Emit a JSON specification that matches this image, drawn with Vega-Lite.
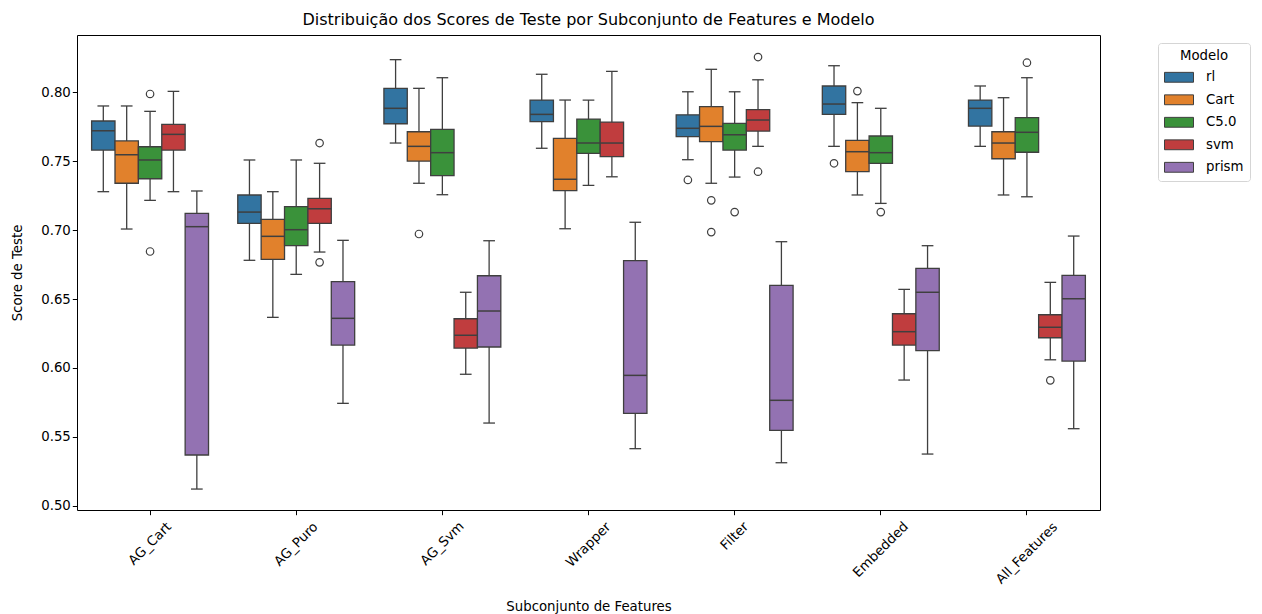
{
  "$schema": "https://vega.github.io/schema/vega-lite/v6.json",
  "autosize": "none",
  "width": 1023,
  "height": 475,
  "padding": {"left": 77, "top": 35, "right": 162, "bottom": 104},
  "background": "white",
  "config": {
    "font": "DejaVu Sans",
    "view": {"stroke": "#000000", "strokeWidth": 1},
    "axis": {"grid": false, "domain": false, "tickColor": "#000000", "tickSize": 4.7, "tickWidth": 1, "labelColor": "#000000", "titleColor": "#000000", "labelFontSize": 13.3, "titleFontSize": 13.3, "titleFontWeight": "normal", "labelFont": "DejaVu Sans", "titleFont": "DejaVu Sans"},
    "title": {"font": "DejaVu Sans", "fontSize": 16, "fontWeight": "normal", "color": "#000000"}
  },
  "title": {"text": "Distribuição dos Scores de Teste por Subconjunto de Features e Modelo", "anchor": "middle", "offset": 7},
  "datasets": {
    "boxes": [
      {"g": "AG_Cart", "m": "rl", "lo": 0.7279, "q1": 0.7581, "med": 0.7721, "q3": 0.7792, "hi": 0.7901},
      {"g": "AG_Cart", "m": "Cart", "lo": 0.7008, "q1": 0.7340, "med": 0.7547, "q3": 0.7647, "hi": 0.7901},
      {"g": "AG_Cart", "m": "C5.0", "lo": 0.7216, "q1": 0.7373, "med": 0.7509, "q3": 0.7605, "hi": 0.7862},
      {"g": "AG_Cart", "m": "svm", "lo": 0.7279, "q1": 0.7581, "med": 0.7695, "q3": 0.7768, "hi": 0.8007},
      {"g": "AG_Cart", "m": "prism", "lo": 0.5121, "q1": 0.5368, "med": 0.7025, "q3": 0.7122, "hi": 0.7284},
      {"g": "AG_Puro", "m": "rl", "lo": 0.6781, "q1": 0.7049, "med": 0.7131, "q3": 0.7255, "hi": 0.7509},
      {"g": "AG_Puro", "m": "Cart", "lo": 0.6367, "q1": 0.6788, "med": 0.6955, "q3": 0.7078, "hi": 0.7279},
      {"g": "AG_Puro", "m": "C5.0", "lo": 0.6679, "q1": 0.6887, "med": 0.7003, "q3": 0.7170, "hi": 0.7509},
      {"g": "AG_Puro", "m": "svm", "lo": 0.6841, "q1": 0.7049, "med": 0.7155, "q3": 0.7231, "hi": 0.7485},
      {"g": "AG_Puro", "m": "prism", "lo": 0.5743, "q1": 0.6166, "med": 0.6360, "q3": 0.6626, "hi": 0.6926},
      {"g": "AG_Svm", "m": "rl", "lo": 0.7632, "q1": 0.7772, "med": 0.7884, "q3": 0.8029, "hi": 0.8237},
      {"g": "AG_Svm", "m": "Cart", "lo": 0.7340, "q1": 0.7501, "med": 0.7608, "q3": 0.7714, "hi": 0.8029},
      {"g": "AG_Svm", "m": "C5.0", "lo": 0.7257, "q1": 0.7395, "med": 0.7562, "q3": 0.7731, "hi": 0.8106},
      {"g": "AG_Svm", "m": "svm", "lo": 0.5954, "q1": 0.6144, "med": 0.6237, "q3": 0.6357, "hi": 0.6549},
      {"g": "AG_Svm", "m": "prism", "lo": 0.5600, "q1": 0.6152, "med": 0.6413, "q3": 0.6669, "hi": 0.6923},
      {"g": "Wrapper", "m": "rl", "lo": 0.7594, "q1": 0.7787, "med": 0.7840, "q3": 0.7944, "hi": 0.8131},
      {"g": "Wrapper", "m": "Cart", "lo": 0.7010, "q1": 0.7286, "med": 0.7369, "q3": 0.7666, "hi": 0.7944},
      {"g": "Wrapper", "m": "C5.0", "lo": 0.7325, "q1": 0.7557, "med": 0.7632, "q3": 0.7806, "hi": 0.7944},
      {"g": "Wrapper", "m": "svm", "lo": 0.7387, "q1": 0.7533, "med": 0.7632, "q3": 0.7784, "hi": 0.8152},
      {"g": "Wrapper", "m": "prism", "lo": 0.5414, "q1": 0.5670, "med": 0.5946, "q3": 0.6778, "hi": 0.7057},
      {"g": "Filter", "m": "rl", "lo": 0.7511, "q1": 0.7678, "med": 0.7739, "q3": 0.7837, "hi": 0.8004},
      {"g": "Filter", "m": "Cart", "lo": 0.7340, "q1": 0.7642, "med": 0.7753, "q3": 0.7896, "hi": 0.8167},
      {"g": "Filter", "m": "C5.0", "lo": 0.7385, "q1": 0.7581, "med": 0.7692, "q3": 0.7775, "hi": 0.8004},
      {"g": "Filter", "m": "svm", "lo": 0.7608, "q1": 0.7719, "med": 0.7799, "q3": 0.7874, "hi": 0.8091},
      {"g": "Filter", "m": "prism", "lo": 0.5312, "q1": 0.5547, "med": 0.5765, "q3": 0.6599, "hi": 0.6916},
      {"g": "Embedded", "m": "rl", "lo": 0.7608, "q1": 0.7840, "med": 0.7915, "q3": 0.8046, "hi": 0.8193},
      {"g": "Embedded", "m": "Cart", "lo": 0.7255, "q1": 0.7424, "med": 0.7569, "q3": 0.7652, "hi": 0.7925},
      {"g": "Embedded", "m": "C5.0", "lo": 0.7194, "q1": 0.7485, "med": 0.7562, "q3": 0.7683, "hi": 0.7884},
      {"g": "Embedded", "m": "svm", "lo": 0.5912, "q1": 0.6166, "med": 0.6263, "q3": 0.6393, "hi": 0.6570},
      {"g": "Embedded", "m": "prism", "lo": 0.5375, "q1": 0.6125, "med": 0.6549, "q3": 0.6723, "hi": 0.6887},
      {"g": "All_Features", "m": "rl", "lo": 0.7608, "q1": 0.7755, "med": 0.7884, "q3": 0.7944, "hi": 0.8046},
      {"g": "All_Features", "m": "Cart", "lo": 0.7255, "q1": 0.7518, "med": 0.7632, "q3": 0.7714, "hi": 0.7961},
      {"g": "All_Features", "m": "C5.0", "lo": 0.7242, "q1": 0.7565, "med": 0.7710, "q3": 0.7816, "hi": 0.8106},
      {"g": "All_Features", "m": "svm", "lo": 0.6059, "q1": 0.6219, "med": 0.6295, "q3": 0.6386, "hi": 0.6621},
      {"g": "All_Features", "m": "prism", "lo": 0.5559, "q1": 0.6050, "med": 0.6502, "q3": 0.6672, "hi": 0.6957}
    ],
    "outliers": [
      {"g": "AG_Cart", "m": "C5.0", "v": 0.7988},
      {"g": "AG_Cart", "m": "C5.0", "v": 0.6845},
      {"g": "AG_Puro", "m": "svm", "v": 0.7632},
      {"g": "AG_Puro", "m": "svm", "v": 0.6766},
      {"g": "AG_Svm", "m": "Cart", "v": 0.6972},
      {"g": "Filter", "m": "rl", "v": 0.7364},
      {"g": "Filter", "m": "Cart", "v": 0.7216},
      {"g": "Filter", "m": "Cart", "v": 0.6986},
      {"g": "Filter", "m": "C5.0", "v": 0.7131},
      {"g": "Filter", "m": "svm", "v": 0.8256},
      {"g": "Filter", "m": "svm", "v": 0.7424},
      {"g": "Embedded", "m": "rl", "v": 0.7485},
      {"g": "Embedded", "m": "Cart", "v": 0.8009},
      {"g": "Embedded", "m": "C5.0", "v": 0.7131},
      {"g": "All_Features", "m": "C5.0", "v": 0.8215},
      {"g": "All_Features", "m": "svm", "v": 0.5910}
    ]
  },
  "encoding": {
    "x": {
      "field": "g", "type": "nominal",
      "scale": {"domain": ["AG_Cart", "AG_Puro", "AG_Svm", "Wrapper", "Filter", "Embedded", "All_Features"], "paddingInner": 0, "paddingOuter": 0},
      "axis": {
        "title": "Subconjunto de Features", "titlePadding": 14,
        "labelAngle": -45, "labelAlign": "center", "labelBaseline": "middle",
        "labelPadding": {"condition": [
          {"test": "datum.value == 'Filter'", "value": 21},
          {"test": "datum.value == 'Embedded'", "value": 34.6},
          {"test": "datum.value == 'All_Features'", "value": 38.1},
          {"test": "datum.value == 'Wrapper'", "value": 29.6},
          {"test": "datum.value == 'AG_Puro'", "value": 29.2}
        ], "value": 28.6}
      }
    },
    "xOffset": {
      "field": "m", "type": "nominal",
      "scale": {"domain": ["rl", "Cart", "C5.0", "svm", "prism"], "paddingInner": 0, "paddingOuter": 0.625}
    }
  },
  "layer": [
    {
      "data": {"name": "boxes"},
      "mark": {"type": "rule", "color": "#3f3f3f", "strokeWidth": 1.3},
      "encoding": {
        "y": {"field": "lo", "type": "quantitative", "scale": {"domain": [0.4969, 0.8416], "nice": false, "zero": false},
              "axis": {"title": "Score de Teste", "values": [0.5, 0.55, 0.6, 0.65, 0.7, 0.75, 0.8], "format": ".2f", "titlePadding": 16}},
        "y2": {"field": "hi"}
      }
    },
    {
      "data": {"name": "boxes"},
      "mark": {"type": "tick", "color": "#3f3f3f", "size": 11.7, "thickness": 1.3, "opacity": 1},
      "encoding": {"y": {"field": "lo", "type": "quantitative"}}
    },
    {
      "data": {"name": "boxes"},
      "mark": {"type": "tick", "color": "#3f3f3f", "size": 11.7, "thickness": 1.3, "opacity": 1},
      "encoding": {"y": {"field": "hi", "type": "quantitative"}}
    },
    {
      "data": {"name": "boxes"},
      "mark": {"type": "bar", "stroke": "#3f3f3f", "strokeWidth": 1.3, "opacity": 1},
      "encoding": {
        "y": {"field": "q1", "type": "quantitative"},
        "y2": {"field": "q3"},
        "fill": {
          "field": "m", "type": "nominal",
          "scale": {"domain": ["rl", "Cart", "C5.0", "svm", "prism"], "range": ["#3274a1", "#e1812c", "#3a923a", "#c03d3e", "#9372b2"]},
          "legend": {
            "title": "Modelo", "orient": "none", "legendX": 1081, "legendY": 8,
            "titleAnchor": "middle", "titleFontSize": 13.3, "titleFontWeight": "normal", "labelFontSize": 13.3,
            "titleColor": "#000000", "labelColor": "#000000", "titleFont": "DejaVu Sans", "labelFont": "DejaVu Sans",
            "symbolType": "M-1,-0.34H1V0.34H-1Z", "symbolSize": 841, "symbolStrokeColor": "#3f3f3f", "symbolStrokeWidth": 1,
            "strokeColor": "#d5d5d5", "fillColor": "#ffffff", "cornerRadius": 3, "padding": 6, "rowPadding": 0.5, "labelOffset": 12, "titlePadding": 0
          }
        }
      }
    },
    {
      "data": {"name": "boxes"},
      "mark": {"type": "tick", "color": "#3f3f3f", "size": 23.4, "thickness": 1.5, "opacity": 1},
      "encoding": {"y": {"field": "med", "type": "quantitative"}}
    },
    {
      "data": {"name": "outliers"},
      "mark": {"type": "point", "shape": "circle", "filled": false, "stroke": "#3f3f3f", "strokeWidth": 1.2, "size": 56, "opacity": 1},
      "encoding": {"y": {"field": "v", "type": "quantitative"}}
    }
  ]
}
